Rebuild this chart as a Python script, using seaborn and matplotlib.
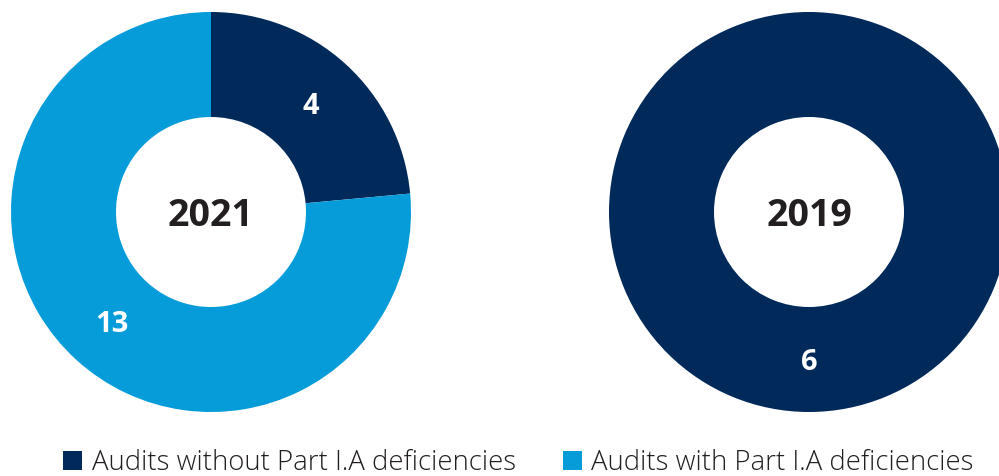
import matplotlib
matplotlib.use("Agg")
import matplotlib.pyplot as plt
import seaborn as sns
from matplotlib.patches import Patch

# --- DATA ---
YEARS = ["2021", "2019"]
WITHOUT_DEF = [4, 6]
WITH_DEF = [13, 0]
LEGEND_LABELS = ["Audits without Part I.A deficiencies", "Audits with Part I.A deficiencies"]

# --- STYLE ---
sns.set_theme(style="white")
plt.rcParams["font.family"] = ["Open Sans", "DejaVu Sans"]
palette = sns.color_palette(["#012a5b", "#069bd9"])
TEXT_DARK = "#231f20"

W, H = 999, 476
fig = plt.figure(figsize=(W / 100, H / 100), dpi=100)

# donut centres (pixels from top-left) and radius
centres = [(211, 212), (809, 212)]
R = 200
INNER = 95 / 200

for (cx, cy), year, a, b in zip(centres, YEARS, WITHOUT_DEF, WITH_DEF):
    ax = fig.add_axes([(cx - R) / W, (H - cy - R) / H, 2 * R / W, 2 * R / H])
    vals = [a, b]
    wedges, texts = ax.pie(
        vals,
        colors=palette,
        startangle=90,
        counterclock=False,
        radius=1,
        wedgeprops=dict(width=1 - INNER, linewidth=0),
        labels=[str(v) if v else "" for v in vals],
        labeldistance=(1 + INNER) / 2,
        textprops=dict(color="white", fontsize=21, fontweight="bold",
                       ha="center", va="center_baseline"),
    )
    ax.text(0, 0, year, ha="center", va="center_baseline", fontsize=27,
            fontweight="bold", color=TEXT_DARK)
    ax.set_xlim(-1, 1)
    ax.set_ylim(-1, 1)
    ax.set_aspect("equal")
    ax.axis("off")

handles = [Patch(facecolor=c, edgecolor="none") for c in palette]
leg = fig.legend(
    handles, LEGEND_LABELS,
    loc="center left", bbox_to_anchor=(38 / W, (H - 463) / H),
    ncol=2, frameon=False,
    prop=dict(family="Open Sans", weight="light", size=19.8),
    handlelength=0.7, handleheight=0.7, handletextpad=0.35,
    columnspacing=1.7, labelcolor=TEXT_DARK,
)

fig.savefig("out.png", dpi=100)
